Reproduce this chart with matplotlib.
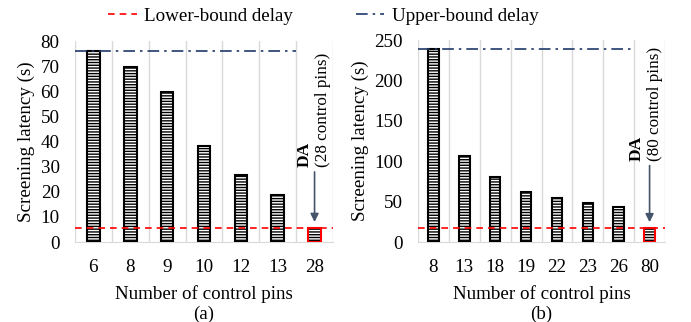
import matplotlib
matplotlib.use('Agg')
import matplotlib.pyplot as plt
from matplotlib.lines import Line2D

# data
pins_a = ['6', '8', '9', '10', '12', '13', '28']
latency_a = [75.9, 69.8, 59.7, 38.3, 26.8, 18.8, 5.5]
upper_a = 75.9
lower_a = 5.5

pins_b = ['8', '13', '18', '19', '22', '23', '26', '80']
latency_b = [239.5, 106.5, 80.5, 62.2, 54.8, 48.4, 43.1, 16.8]
upper_b = 239.5
lower_b = 16.8

da_label_a = '(28 control pins)'
da_label_b = '(80 control pins)'

plt.rc('font', family='Liberation Serif', size=13.7)
plt.rcParams['hatch.linewidth'] = 1.0

upper_color = '#1F3A6B'
arrow_color = '#44546A'
grid_color = '#D9D9D9'


def panel(ax, labels, values, upper, lower, ymax, ystep, da_text, arrow_from, text_off):
    n = len(labels)
    x = list(range(n))
    # ordinary bars
    ax.bar(x[:-1], values[:-1], width=0.34, color='white', edgecolor='black',
           hatch='------', linewidth=1.5, zorder=3)
    # DA bar: black hatch, red outline
    ax.bar(x[-1], values[-1], width=0.34, color='white', edgecolor='black',
           hatch='------', linewidth=0, zorder=3)
    ax.bar(x[-1], values[-1], width=0.34, fill=False, edgecolor='red',
           linewidth=1.5, zorder=4)

    for b in range(n + 1):
        ax.axvline(b - 0.5, color=grid_color, linewidth=1, zorder=1)

    ax.hlines(upper, -0.5, n - 1.5, colors=upper_color, linestyles=(0, (7, 3, 1.5, 3)),
              linewidth=1.2, zorder=5)
    ax.axhline(lower, color='red', linestyle=(0, (4, 3)), linewidth=1.2, zorder=5)

    ax.annotate('', xy=(x[-1], values[-1] + 0.017 * ymax), xytext=(x[-1], arrow_from),
                arrowprops=dict(arrowstyle='-|>', color=arrow_color, lw=1.2,
                                mutation_scale=12), zorder=6)
    ax.text(x[-1] - text_off[0], arrow_from + 0.01 * ymax, 'DA', rotation=90,
            ha='center', va='bottom', fontsize=12.5, fontweight='bold')
    ax.text(x[-1] + text_off[1], arrow_from + 0.01 * ymax, da_text, rotation=90,
            ha='center', va='bottom', fontsize=12.3)

    ax.set_xlim(-0.5, n - 0.5)
    ax.set_ylim(0, ymax)
    ax.set_yticks(range(0, ymax + 1, ystep))
    ax.set_xticks(x)
    ax.set_xticklabels(labels)
    ax.tick_params(length=0)
    ax.tick_params(axis='y', pad=11)
    ax.tick_params(axis='x', pad=12)
    for s in ['top', 'right', 'left']:
        ax.spines[s].set_visible(False)
    ax.spines['bottom'].set_color(grid_color)
    ax.set_ylabel('Screening latency (s)')
    ax.set_xlabel('Number of control pins', labelpad=7)


fig = plt.figure(figsize=(6.91, 3.22), dpi=100)
ax1 = fig.add_axes([0.1085, 0.2484, 0.3734, 0.6242])
ax2 = fig.add_axes([0.6049, 0.2484, 0.3575, 0.6273])

panel(ax1, pins_a, latency_a, upper_a, lower_a, 80, 10, da_label_a, 29, (0.26, 0.23))
panel(ax2, pins_b, latency_b, upper_b, lower_b, 250, 50, da_label_b, 98, (0.41, 0.17))

fig.text(0.2952, 1 - 314 / 322, '(a)', ha='center', va='center')
fig.text(0.7836, 1 - 314 / 322, '(b)', ha='center', va='center')

handles = [Line2D([], [], color='red', linestyle=(0, (4, 3)), linewidth=1.2),
           Line2D([], [], color=upper_color, linestyle=(0, (7, 3, 1.5, 3)), linewidth=1.2)]
fig.legend(handles, ['Lower-bound delay', 'Upper-bound delay'], loc='center left',
           bbox_to_anchor=(108 / 691, 1 - 16 / 322), ncol=2, frameon=False,
           handlelength=1.5, handletextpad=0.4, columnspacing=3.3, borderpad=0,
           borderaxespad=0)

fig.savefig('out.png', dpi=100)
